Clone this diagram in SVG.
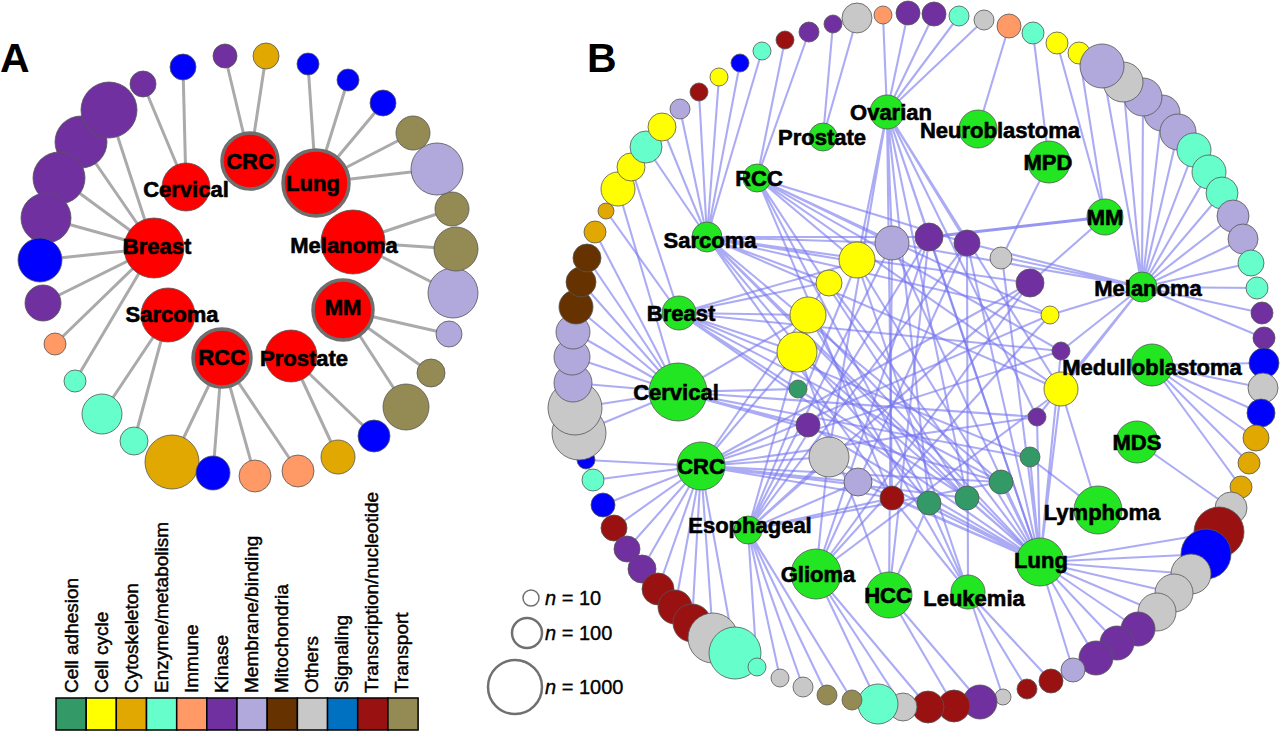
<svg xmlns="http://www.w3.org/2000/svg" width="1280" height="731" viewBox="0 0 1280 731">
<style>
.ea{stroke:#aaaaaa;stroke-width:3;fill:none}
.eb{stroke:#7474ee;stroke-opacity:.6;stroke-width:2.1;fill:none}
.n{stroke:#555;stroke-width:.8}
.tk{stroke:#6e6e6e;stroke-width:3.5}
.lbl{font-family:"Liberation Sans",Arial,sans-serif;font-weight:bold;font-size:22px;text-anchor:middle;fill:#000;stroke:#000;stroke-width:.6}
.pl{font-family:"Liberation Sans",Arial,sans-serif;font-weight:bold;font-size:41px;fill:#000}
.lg{font-family:"Liberation Sans",Arial,sans-serif;font-size:19px;fill:#000;stroke:#000;stroke-width:.45}
.sz{font-family:"Liberation Sans",Arial,sans-serif;font-size:20px;fill:#000;stroke:#000;stroke-width:.35}
.box{stroke:#000;stroke-width:1.5}
.sc{fill:#fff;stroke:#707070}
.rd{fill:#ff0000}.gn{fill:#22e622}
.ca{fill:#339966}.yl{fill:#ffff00}.cy{fill:#e0a800}.en{fill:#66ffcc}.im{fill:#ff9966}
.ka{fill:#7030a0}.me{fill:#b1a8dc}.mi{fill:#663300}.ot{fill:#c8c8c8}.sg{fill:#0070c0}
.bl{fill:#0000ff}.tc{fill:#991111}.tr{fill:#948a54}
</style>
<rect width="1280" height="731" fill="#fff"/>
<text class="pl" x="0" y="72">A</text>
<text class="pl" x="587" y="72">B</text>

<g id="connectors">
<g id="edges-a">
<path class="ea" d="M154 248L109 110M154 248L81 142M154 248L59 178M154 248L46 218M154 248L40 260M154 248L43 303M154 248L55 344M154 248L75 381"/>
<path class="ea" d="M168 315L102 414M168 315L134 441"/>
<path class="ea" d="M222 358L172 462M222 358L213 473M222 358L255 476M222 358L298 471"/>
<path class="ea" d="M291 356L338 457M291 356L374 436"/>
<path class="ea" d="M343 310L406 407M343 310L431 373M343 310L449 334"/>
<path class="ea" d="M353 242L453 293M353 242L456 249M353 242L452 209"/>
<path class="ea" d="M316 183L437 169M316 183L413 133M316 183L383 103M316 183L348 80M316 183L308 64"/>
<path class="ea" d="M250 161L266 56M250 161L225 56"/>
<path class="ea" d="M186 187L183 67M186 187L143 84"/>
</g>
<g id="edges-b">
<path class="eb" d="M707 237L646 147M707 237L662 127M707 237L680 109M707 237L699 92M707 237L719 77M707 237L740 63M707 237L762 51"/>
<path class="eb" d="M678 392L618 189M678 392L595 232M678 392L587 258M678 392L581 282M678 392L576 307M678 392L573 332M678 392L572 357M678 392L573 383M678 392L575 408M678 392L579 433"/>
<path class="eb" d="M679 313L631 167M679 313L606 211"/>
<path class="eb" d="M757 178L785 40M757 178L809 32M823 137L833 24M823 137L857 18"/>
<path class="eb" d="M887 112L883 15M887 112L908 13M887 112L934 14M887 112L959 16M887 112L984 20"/>
<path class="eb" d="M978 129L1009 26M1049 162L1033 33M1105 217L1057 43M1105 217L1079 53"/>
<path class="eb" d="M1142 287L1102 66M1142 287L1123 82M1142 287L1143 97M1142 287L1162 113M1142 287L1178 132M1142 287L1194 150M1142 287L1209 172M1142 287L1222 193M1142 287L1233 216M1142 287L1243 239M1142 287L1251 263M1142 287L1257 288M1142 287L1262 313M1142 287L1264 338"/>
<path class="eb" d="M1152 365L1264 363M1152 365L1263 388M1152 365L1261 413M1152 365L1256 438M1152 365L1249 463M1152 365L1241 487M1137 442L1231 508"/>
<path class="eb" d="M1040 562L1219 532M1040 562L1206 554M1040 562L1191 574M1040 562L1174 593M1040 562L1157 612M1040 562L1138 629M1040 562L1117 643M1040 562L1096 658M1040 562L1073 670"/>
<path class="eb" d="M968 592L1051 681M968 592L1027 689M968 592L1003 697M889 595L980 702M889 595L954 706"/>
<path class="eb" d="M816 574L928 707M816 574L903 707M816 574L878 704"/>
<path class="eb" d="M748 530L852 700M748 530L827 695M748 530L803 687M748 530L780 678M748 530L757 667"/>
<path class="eb" d="M701 466L735 653M701 466L713 638M701 466L692 623M701 466L675 607M701 466L658 589M701 466L642 569M701 466L627 549M701 466L614 528M701 466L603 505M701 466L593 480M701 466L586 460"/>
<path class="eb" d="M707 237L857 262M707 237L828 282M707 237L892 243M707 237L929 237M707 237L1050 315M707 237L1061 390M707 237L1001 482M707 237L1040 562M707 237L1030 283M707 237L967 498M707 237L929 503M707 237L892 498"/>
<path class="eb" d="M757 178L857 262M757 178L892 243M757 178L967 243M757 178L1061 390M757 178L1061 351M757 178L967 498M757 178L1050 315M757 178L929 503M757 178L892 498"/>
<path class="eb" d="M887 112L892 243M887 112L929 237M887 112L857 262M887 112L967 243M887 112L929 503M887 112L967 498M887 112L1040 562M887 112L1061 390M887 112L892 498M887 112L1037 417M887 112L828 457"/>
<path class="eb" d="M1105 217L1030 283M1049 162L1002 257"/>
<path class="eb" style="stroke-width:3;stroke-opacity:.75" d="M1105 217L929 237"/>
<path class="eb" d="M1142 287L967 243M1142 287L1050 315M1142 287L1061 351M1142 287L1061 390M1142 287L892 243M1142 287L1002 257M1142 287L1037 417"/>
<path class="eb" d="M1098 510L1061 390M1098 510L1030 458"/>
<path class="eb" d="M1040 562L929 503M1040 562L967 498M1040 562L1001 482M1040 562L892 498M1040 562L1061 390M1040 562L1061 351M1040 562L808 315M1040 562L798 352M1040 562L808 425M1040 562L828 457M1040 562L858 482M1040 562L828 282M1040 562L1037 417M1040 562L1030 458M1040 562L892 243M1040 562L929 237M1040 562L967 243M1040 562L857 262M1040 562L1002 257"/>
<path class="eb" d="M968 592L892 498M968 592L929 503M889 595L929 503M968 592L808 315M968 592L857 262M968 592L967 243M889 595L798 352M889 595L892 243M889 595L929 237"/>
<path class="eb" d="M816 574L858 482M816 574L828 457M816 574L1030 283M816 574L1061 390M816 574L929 237M816 574L967 243M816 574L1050 315"/>
<path class="eb" d="M748 530L858 482M748 530L828 457M748 530L857 262M748 530L798 352M748 530L892 498M748 530L1001 482M748 530L967 243M748 530L892 243M748 530L929 237M748 530L1030 283"/>
<path class="eb" d="M701 466L798 352M701 466L828 457M701 466L858 482M701 466L892 498M701 466L967 498M701 466L1001 482M701 466L828 282M701 466L1061 351M701 466L1030 283M701 466L1050 315M701 466L1037 417"/>
<path class="eb" d="M678 392L798 389M678 392L808 425M678 392L808 315M678 392L1037 417M678 392L1030 458M678 392L1001 482"/>
<path class="eb" d="M679 313L857 262M679 313L828 282M679 313L808 315M679 313L798 352M679 313L1061 351M679 313L1030 458M679 313L1040 562M679 313L1001 482M679 313L967 498"/>
</g>
</g>

<g id="panel-a-genes">
<circle class="n ka" cx="81" cy="142" r="26"/>
<circle class="n ka" cx="109" cy="110" r="28"/>
<circle class="n ka" cx="59" cy="178" r="26"/>
<circle class="n ka" cx="46" cy="218" r="25"/>
<circle class="n bl" cx="40" cy="260" r="22"/>
<circle class="n ka" cx="43" cy="303" r="18"/>
<circle class="n im" cx="55" cy="344" r="11"/>
<circle class="n en" cx="75" cy="381" r="11"/>
<circle class="n en" cx="102" cy="414" r="20"/>
<circle class="n en" cx="134" cy="441" r="14"/>
<circle class="n cy" cx="172" cy="462" r="27"/>
<circle class="n bl" cx="213" cy="473" r="17"/>
<circle class="n im" cx="255" cy="476" r="16"/>
<circle class="n im" cx="298" cy="471" r="16"/>
<circle class="n cy" cx="338" cy="457" r="17"/>
<circle class="n bl" cx="374" cy="436" r="16"/>
<circle class="n tr" cx="406" cy="407" r="23"/>
<circle class="n tr" cx="431" cy="373" r="14"/>
<circle class="n me" cx="449" cy="334" r="13"/>
<circle class="n me" cx="453" cy="293" r="25"/>
<circle class="n tr" cx="456" cy="249" r="22"/>
<circle class="n tr" cx="452" cy="209" r="17"/>
<circle class="n me" cx="437" cy="169" r="26"/>
<circle class="n tr" cx="413" cy="133" r="17"/>
<circle class="n bl" cx="383" cy="103" r="13"/>
<circle class="n bl" cx="348" cy="80" r="11"/>
<circle class="n bl" cx="308" cy="64" r="11"/>
<circle class="n cy" cx="266" cy="56" r="13"/>
<circle class="n ka" cx="225" cy="56" r="12"/>
<circle class="n bl" cx="183" cy="67" r="13"/>
<circle class="n ka" cx="143" cy="84" r="13"/>
</g>

<g id="a-cervical"><circle class="n rd" cx="186" cy="187" r="24"/><text class="lbl" x="186" y="197">Cervical</text></g>
<g id="a-crc"><circle class="tk rd" cx="250" cy="161" r="28"/><text class="lbl" x="250" y="169">CRC</text></g>
<g id="a-lung"><circle class="tk rd" cx="316" cy="183" r="33"/><text class="lbl" x="313" y="191">Lung</text></g>
<g id="a-melanoma"><circle class="n rd" cx="353" cy="242" r="32"/><text class="lbl" x="344" y="253">Melanoma</text></g>
<g id="a-breast"><circle class="n rd" cx="154" cy="248" r="30"/><text class="lbl" x="157" y="254">Breast</text></g>
<g id="a-sarcoma"><circle class="n rd" cx="168" cy="315" r="27"/><text class="lbl" x="172" y="322">Sarcoma</text></g>
<g id="a-rcc"><circle class="tk rd" cx="222" cy="358" r="29"/><text class="lbl" x="222" y="365">RCC</text></g>
<g id="a-prostate"><circle class="n rd" cx="291" cy="356" r="26"/><text class="lbl" x="304" y="366">Prostate</text></g>
<g id="a-mm"><circle class="tk rd" cx="343" cy="310" r="30"/><text class="lbl" x="343" y="315">MM</text></g>

<g id="legend-colors">
<rect class="box ca" x="56" y="698" width="30.2" height="32"/>
<rect class="box yl" x="86.2" y="698" width="30.2" height="32"/>
<rect class="box cy" x="116.3" y="698" width="30.2" height="32"/>
<rect class="box en" x="146.5" y="698" width="30.2" height="32"/>
<rect class="box im" x="176.7" y="698" width="30.2" height="32"/>
<rect class="box ka" x="206.8" y="698" width="30.2" height="32"/>
<rect class="box me" x="237" y="698" width="30.2" height="32"/>
<rect class="box mi" x="267.2" y="698" width="30.2" height="32"/>
<rect class="box ot" x="297.4" y="698" width="30.2" height="32"/>
<rect class="box sg" x="327.5" y="698" width="30.2" height="32"/>
<rect class="box tc" x="357.7" y="698" width="30.2" height="32"/>
<rect class="box tr" x="387.9" y="698" width="30.2" height="32"/>
<text class="lg" transform="translate(78,693) rotate(-90)">Cell adhesion</text>
<text class="lg" transform="translate(108,693) rotate(-90)">Cell cycle</text>
<text class="lg" transform="translate(138,693) rotate(-90)">Cytoskeleton</text>
<text class="lg" transform="translate(168,693) rotate(-90)">Enzyme/metabolism</text>
<text class="lg" transform="translate(198,693) rotate(-90)">Immune</text>
<text class="lg" transform="translate(228,693) rotate(-90)">Kinase</text>
<text class="lg" transform="translate(258,693) rotate(-90)">Membrane/binding</text>
<text class="lg" transform="translate(288,693) rotate(-90)">Mitochondria</text>
<text class="lg" transform="translate(318,693) rotate(-90)">Others</text>
<text class="lg" transform="translate(348,693) rotate(-90)">Signaling</text>
<text class="lg" transform="translate(378,693) rotate(-90)">Transcription/nucleotide</text>
<text class="lg" transform="translate(408,693) rotate(-90)">Transport</text>
</g>

<g id="legend-size">
<circle class="sc" cx="531" cy="598" r="8" stroke-width="1.5"/>
<text class="sz" x="545" y="605"><tspan font-style="italic">n</tspan> = 10</text>
<circle class="sc" cx="527" cy="633" r="15" stroke-width="2.5"/>
<text class="sz" x="545" y="640"><tspan font-style="italic">n</tspan> = 100</text>
<circle class="sc" cx="515" cy="687" r="27" stroke-width="2.5"/>
<text class="sz" x="545" y="694"><tspan font-style="italic">n</tspan> = 1000</text>
</g>

<g id="panel-b-genes">
<circle class="n cy" cx="606" cy="211" r="8"/>
<circle class="n cy" cx="595" cy="232" r="11"/>
<circle class="n yl" cx="618" cy="189" r="17"/>
<circle class="n yl" cx="631" cy="167" r="14"/>
<circle class="n en" cx="646" cy="147" r="16"/>
<circle class="n yl" cx="662" cy="127" r="14"/>
<circle class="n me" cx="680" cy="109" r="10"/>
<circle class="n tc" cx="699" cy="92" r="9"/>
<circle class="n yl" cx="719" cy="77" r="9"/>
<circle class="n bl" cx="740" cy="63" r="9"/>
<circle class="n en" cx="762" cy="51" r="9"/>
<circle class="n tc" cx="785" cy="40" r="9"/>
<circle class="n ka" cx="809" cy="32" r="10"/>
<circle class="n ka" cx="833" cy="24" r="9"/>
<circle class="n ot" cx="857" cy="18" r="15"/>
<circle class="n im" cx="883" cy="15" r="9"/>
<circle class="n ka" cx="908" cy="13" r="12"/>
<circle class="n ka" cx="934" cy="14" r="12"/>
<circle class="n en" cx="959" cy="16" r="10"/>
<circle class="n ot" cx="984" cy="20" r="10"/>
<circle class="n im" cx="1009" cy="26" r="12"/>
<circle class="n en" cx="1033" cy="33" r="11"/>
<circle class="n yl" cx="1057" cy="43" r="11"/>
<circle class="n yl" cx="1079" cy="53" r="11"/>
<circle class="n me" cx="1162" cy="113" r="18"/>
<circle class="n me" cx="1143" cy="97" r="19"/>
<circle class="n ot" cx="1123" cy="82" r="20"/>
<circle class="n me" cx="1102" cy="66" r="22"/>
<circle class="n me" cx="1178" cy="132" r="18"/>
<circle class="n en" cx="1194" cy="150" r="17"/>
<circle class="n en" cx="1209" cy="172" r="17"/>
<circle class="n en" cx="1222" cy="193" r="16"/>
<circle class="n me" cx="1233" cy="216" r="16"/>
<circle class="n me" cx="1243" cy="239" r="15"/>
<circle class="n en" cx="1251" cy="263" r="13"/>
<circle class="n en" cx="1257" cy="288" r="11"/>
<circle class="n ka" cx="1262" cy="313" r="11"/>
<circle class="n ka" cx="1264" cy="338" r="11"/>
<circle class="n bl" cx="1264" cy="363" r="15"/>
<circle class="n ot" cx="1263" cy="388" r="15"/>
<circle class="n bl" cx="1261" cy="413" r="14"/>
<circle class="n cy" cx="1256" cy="438" r="13"/>
<circle class="n cy" cx="1249" cy="463" r="11"/>
<circle class="n cy" cx="1241" cy="487" r="11"/>
<circle class="n ot" cx="1231" cy="508" r="16"/>
<circle class="n tc" cx="1219" cy="532" r="25"/>
<circle class="n bl" cx="1206" cy="554" r="25"/>
<circle class="n ot" cx="1191" cy="574" r="20"/>
<circle class="n ot" cx="1174" cy="593" r="19"/>
<circle class="n ot" cx="1157" cy="612" r="19"/>
<circle class="n ka" cx="1138" cy="629" r="17"/>
<circle class="n ka" cx="1117" cy="643" r="17"/>
<circle class="n ka" cx="1096" cy="658" r="17"/>
<circle class="n me" cx="1073" cy="670" r="12"/>
<circle class="n tc" cx="1051" cy="681" r="12"/>
<circle class="n tc" cx="1027" cy="689" r="10"/>
<circle class="n ot" cx="1003" cy="697" r="8"/>
<circle class="n ka" cx="980" cy="702" r="17"/>
<circle class="n tc" cx="954" cy="706" r="16"/>
<circle class="n tc" cx="928" cy="707" r="16"/>
<circle class="n ot" cx="903" cy="707" r="14"/>
<circle class="n en" cx="878" cy="704" r="20"/>
<circle class="n tr" cx="852" cy="700" r="10"/>
<circle class="n tr" cx="827" cy="695" r="10"/>
<circle class="n ot" cx="803" cy="687" r="10"/>
<circle class="n ot" cx="780" cy="678" r="9"/>
<circle class="n bl" cx="586" cy="460" r="9"/>
<circle class="n en" cx="593" cy="480" r="11"/>
<circle class="n bl" cx="603" cy="505" r="12"/>
<circle class="n tc" cx="614" cy="528" r="13"/>
<circle class="n ka" cx="627" cy="549" r="13"/>
<circle class="n ka" cx="642" cy="569" r="14"/>
<circle class="n tc" cx="658" cy="589" r="16"/>
<circle class="n tc" cx="675" cy="607" r="17"/>
<circle class="n tc" cx="692" cy="623" r="19"/>
<circle class="n ot" cx="713" cy="638" r="25"/>
<circle class="n en" cx="735" cy="653" r="26"/>
<circle class="n en" cx="757" cy="667" r="9"/>
<circle class="n ot" cx="579" cy="433" r="27"/>
<circle class="n ot" cx="575" cy="408" r="27"/>
<circle class="n me" cx="573" cy="383" r="19"/>
<circle class="n me" cx="572" cy="357" r="18"/>
<circle class="n me" cx="573" cy="332" r="17"/>
<circle class="n mi" cx="576" cy="307" r="17"/>
<circle class="n mi" cx="581" cy="282" r="15"/>
<circle class="n mi" cx="587" cy="258" r="14"/>
<circle class="n yl" cx="857" cy="260" r="18"/>
<circle class="n yl" cx="829" cy="283" r="13"/>
<circle class="n yl" cx="808" cy="315" r="18"/>
<circle class="n yl" cx="797" cy="352" r="20"/>
<circle class="n ca" cx="798" cy="389" r="9"/>
<circle class="n ka" cx="808" cy="425" r="12"/>
<circle class="n ot" cx="829" cy="457" r="20"/>
<circle class="n me" cx="858" cy="482" r="14"/>
<circle class="n me" cx="892" cy="243" r="17"/>
<circle class="n ka" cx="929" cy="237" r="14"/>
<circle class="n ka" cx="967" cy="243" r="13"/>
<circle class="n ot" cx="1001" cy="258" r="11"/>
<circle class="n ka" cx="1030" cy="283" r="14"/>
<circle class="n yl" cx="1050" cy="315" r="9"/>
<circle class="n ka" cx="1061" cy="351" r="9"/>
<circle class="n yl" cx="1061" cy="389" r="17"/>
<circle class="n ka" cx="1037" cy="417" r="9"/>
<circle class="n ca" cx="1030" cy="457" r="10"/>
<circle class="n ca" cx="1001" cy="482" r="12"/>
<circle class="n ca" cx="967" cy="498" r="12"/>
<circle class="n ca" cx="929" cy="503" r="12"/>
<circle class="n tc" cx="892" cy="498" r="12"/>
</g>

<g id="b-sarcoma"><circle class="n gn" cx="707" cy="237" r="15"/><text class="lbl" x="710" y="248">Sarcoma</text></g>
<g id="b-rcc"><circle class="n gn" cx="757" cy="178" r="14"/><text class="lbl" x="759" y="186">RCC</text></g>
<g id="b-prostate"><circle class="n gn" cx="823" cy="137" r="14"/><text class="lbl" x="822" y="145">Prostate</text></g>
<g id="b-ovarian"><circle class="n gn" cx="887" cy="112" r="17"/><text class="lbl" x="891" y="120">Ovarian</text></g>
<g id="b-neuroblastoma"><circle class="n gn" cx="978" cy="129" r="19"/><text class="lbl" x="1000" y="138">Neuroblastoma</text></g>
<g id="b-mpd"><circle class="n gn" cx="1049" cy="162" r="21"/><text class="lbl" x="1048" y="170">MPD</text></g>
<g id="b-mm"><circle class="n gn" cx="1105" cy="217" r="18"/><text class="lbl" x="1105" y="225">MM</text></g>
<g id="b-melanoma"><circle class="n gn" cx="1142" cy="287" r="15"/><text class="lbl" x="1148" y="296">Melanoma</text></g>
<g id="b-medulloblastoma"><circle class="n gn" cx="1152" cy="365" r="21"/><text class="lbl" x="1152" y="375">Medulloblastoma</text></g>
<g id="b-mds"><circle class="n gn" cx="1137" cy="442" r="21"/><text class="lbl" x="1137" y="450">MDS</text></g>
<g id="b-lymphoma"><circle class="n gn" cx="1098" cy="510" r="24"/><text class="lbl" x="1102" y="520">Lymphoma</text></g>
<g id="b-lung"><circle class="n gn" cx="1040" cy="562" r="24"/><text class="lbl" x="1041" y="568">Lung</text></g>
<g id="b-leukemia"><circle class="n gn" cx="968" cy="592" r="17"/><text class="lbl" x="974" y="606">Leukemia</text></g>
<g id="b-hcc"><circle class="n gn" cx="889" cy="595" r="23"/><text class="lbl" x="888" y="603">HCC</text></g>
<g id="b-glioma"><circle class="n gn" cx="816" cy="574" r="25"/><text class="lbl" x="818" y="582">Glioma</text></g>
<g id="b-esophageal"><circle class="n gn" cx="748" cy="530" r="14"/><text class="lbl" x="750" y="533">Esophageal</text></g>
<g id="b-crc"><circle class="n gn" cx="701" cy="466" r="24"/><text class="lbl" x="701" y="474">CRC</text></g>
<g id="b-cervical"><circle class="n gn" cx="678" cy="392" r="29"/><text class="lbl" x="676" y="400">Cervical</text></g>
<g id="b-breast"><circle class="n gn" cx="679" cy="313" r="17"/><text class="lbl" x="681" y="321">Breast</text></g>
</svg>
